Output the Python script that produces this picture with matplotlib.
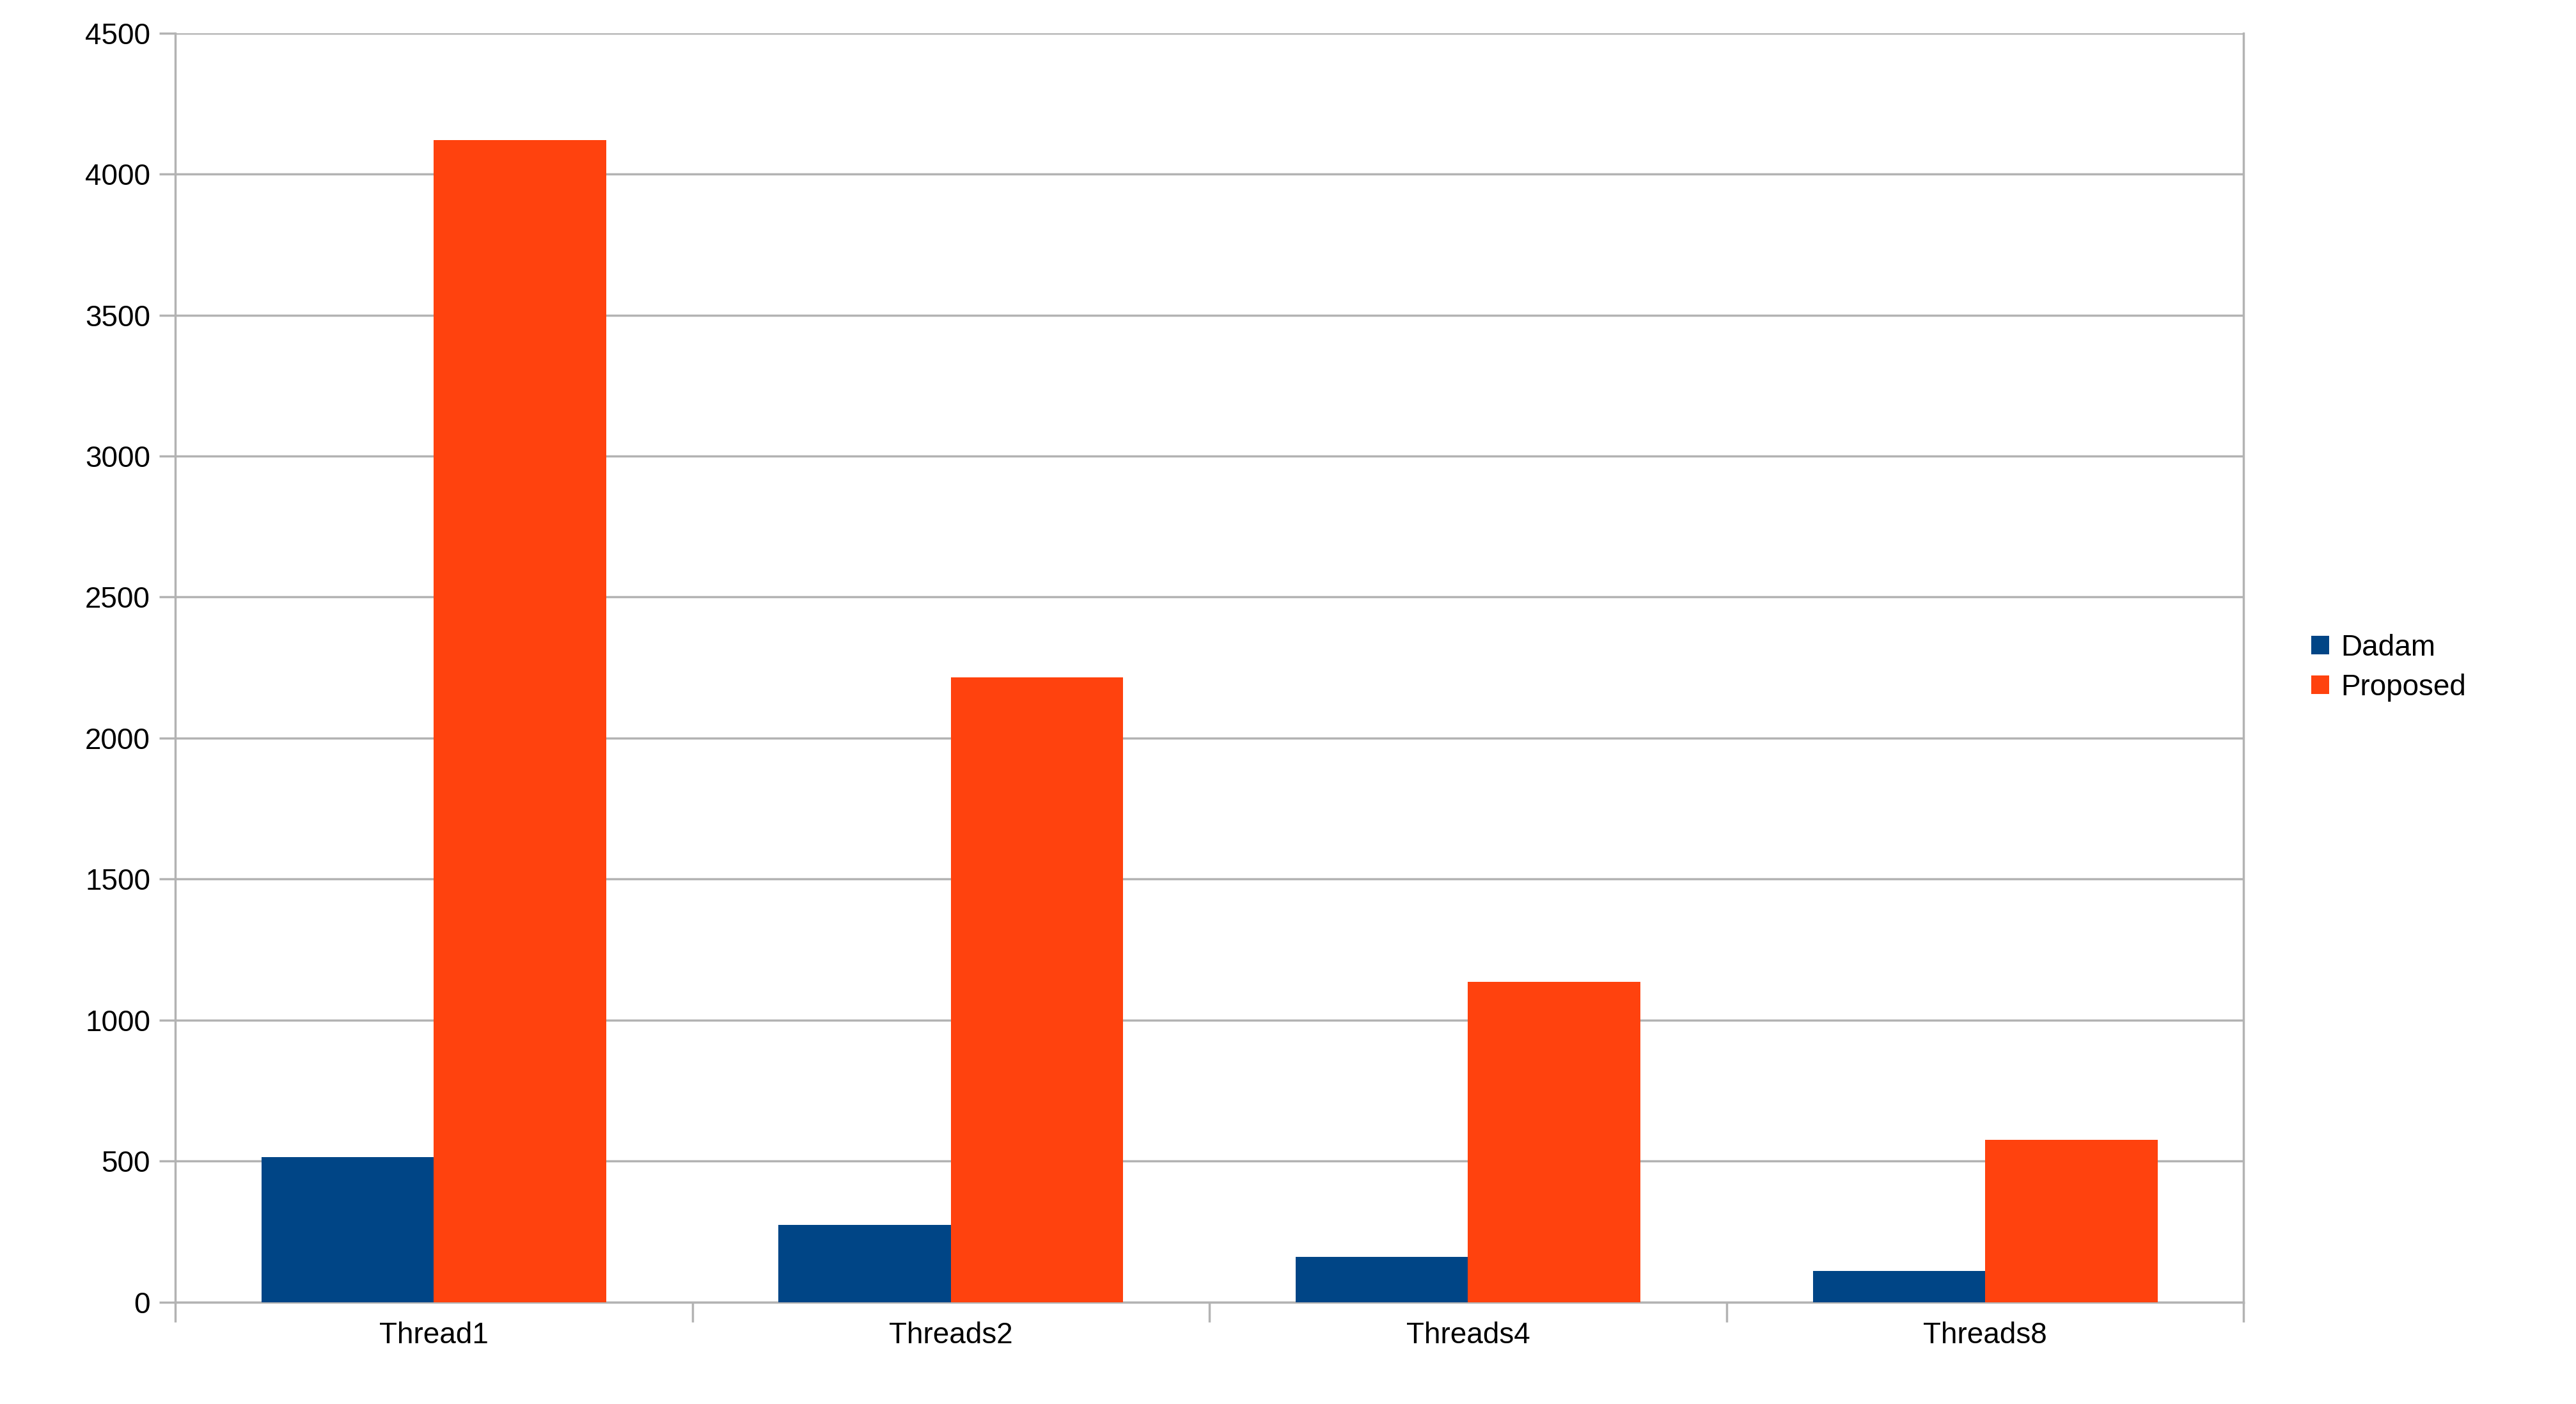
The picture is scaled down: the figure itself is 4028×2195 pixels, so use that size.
import matplotlib
matplotlib.use("Agg")
import matplotlib.pyplot as plt
import numpy as np

categories = ["Thread1", "Threads2", "Threads4", "Threads8"]
dadam = [515, 275, 160, 110]
proposed = [4120, 2215, 1135, 575]
yticks = [0, 500, 1000, 1500, 2000, 2500, 3000, 3500, 4000, 4500]

plt.rcParams['font.family'] = ['Liberation Sans', 'DejaVu Sans']
fig = plt.figure(figsize=(40.28, 21.95), dpi=100)
ax = fig.add_axes([0.068, 0.0725, 0.803, 0.904])
x = np.arange(len(categories))
w = 1/3
ax.bar(x - w/2, dadam, w, color="#004586", label="Dadam", zorder=3)
ax.bar(x + w/2, proposed, w, color="#ff420e", label="Proposed", zorder=3)
ax.set_xlim(-0.5, 3.5)
ax.set_ylim(0, 4500)
ax.set_yticks(yticks)
ax.yaxis.grid(True, color="#b3b3b3", linewidth=2.5, zorder=0)
ax.set_xticks(x)
ax.set_xticklabels(categories)
ax.set_xticks(np.arange(-0.5, 4, 1), minor=True)
ax.tick_params(axis='x', which='major', length=0, labelsize=33, pad=22)
ax.tick_params(axis='x', which='minor', length=22, width=2.5, color="#b3b3b3")
ax.tick_params(axis='y', length=18, width=2.5, color="#b3b3b3", labelsize=33, pad=10)
for s in ["left", "right", "bottom", "top"]:
    ax.spines[s].set_color("#b3b3b3")
    ax.spines[s].set_linewidth(2.5)
ax.spines["top"].set_visible(False)
ax.legend(loc="center left", bbox_to_anchor=(1.02, 0.5), frameon=False, fontsize=33,
          handlelength=0.6, handleheight=0.6, handletextpad=0.4, labelspacing=0.4)
fig.savefig("out.png", dpi=100)
